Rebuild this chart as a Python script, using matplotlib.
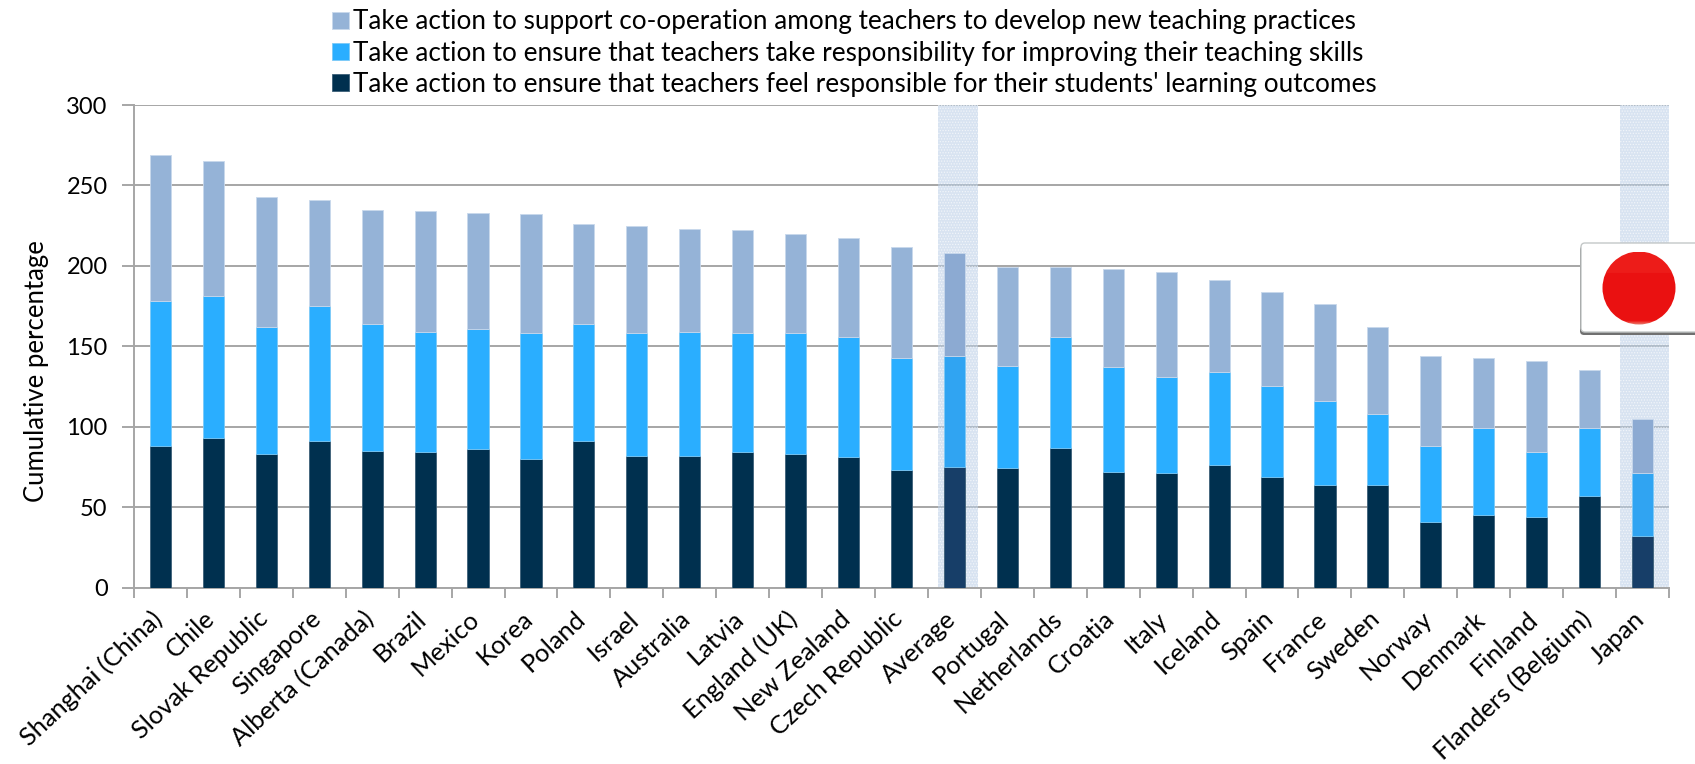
import matplotlib
matplotlib.use("Agg")
import matplotlib.pyplot as plt
import matplotlib.patches as patches
import matplotlib.transforms as transforms
import numpy as np

plt.rcParams["font.family"] = ["Lato", "DejaVu Sans"]
plt.rcParams["hatch.linewidth"] = 0.6

countries = ["Shanghai (China)", "Chile", "Slovak Republic", "Singapore",
             "Alberta (Canada)", "Brazil", "Mexico", "Korea", "Poland", "Israel",
             "Australia", "Latvia", "England (UK)", "New Zealand", "Czech Republic",
             "Average", "Portugal", "Netherlands", "Croatia", "Italy", "Iceland",
             "Spain", "France", "Sweden", "Norway", "Denmark", "Finland",
             "Flanders (Belgium)", "Japan"]
outcomes = [88, 93, 83, 91, 85, 84, 86, 80, 91, 82, 82, 84, 83, 81, 73,
            75, 74, 87, 72, 71, 76, 69, 64, 64, 41, 45, 44, 57, 32]
skills = [90, 88, 79, 84, 79, 75, 75, 78, 73, 76, 77, 74, 75, 75, 70,
          69, 64, 69, 65, 60, 58, 56, 52, 44, 47, 54, 40, 42, 39]
cooperation = [91, 84, 81, 66, 71, 75, 72, 74, 62, 67, 64, 64, 62, 61, 69,
               64, 61, 43, 61, 65, 57, 59, 60, 54, 56, 44, 57, 36, 34]
y_ticks = [0, 50, 100, 150, 200, 250, 300]
highlighted = ["Average", "Japan"]

label_outcomes = "Take action to ensure that teachers feel responsible for their students' learning outcomes"
label_skills = "Take action to ensure that teachers take responsibility for improving their teaching skills"
label_cooperation = "Take action to support co-operation among teachers to develop new teaching practices"

W, H = 1695, 764
GREY = "#a6a6a6"


def bar_colors(normal, shaded):
    return [shaded if c in highlighted else normal for c in countries]


fig = plt.figure(figsize=(W / 100, H / 100), dpi=100)
ax = fig.add_axes([134 / W, 1 - 587.5 / H, 1535 / W, 482.5 / H])

x = np.arange(len(countries))
outcomes_arr, skills_arr = np.array(outcomes), np.array(skills)
bar_opts = dict(width=0.4, linewidth=0.6, zorder=3)
b1 = ax.bar(x, outcomes_arr, color=bar_colors("#00304f", "#173e68"), edgecolor="#3d6078",
            label=label_outcomes, **bar_opts)
b2 = ax.bar(x, skills_arr, bottom=outcomes_arr, color=bar_colors("#2aaeff", "#30a4f2"),
            edgecolor="#7cc9f7", label=label_skills, **bar_opts)
b3 = ax.bar(x, cooperation, bottom=outcomes_arr + skills_arr, color=bar_colors("#95b3d7", "#8caad2"),
            edgecolor="#c8d8ec", label=label_cooperation, **bar_opts)

ax.set_xlim(-0.5, len(countries) - 0.5)
ax.set_ylim(0, 300)
ax.set_yticks(y_ticks)
ax.tick_params(axis="y", labelsize=17, length=9, width=1.4, color=GREY, pad=10)
ax.grid(axis="y", color=GREY, lw=1.4)
ax.set_axisbelow(True)
ax.set_xticks(x)
ax.set_xticklabels(countries, rotation=43, ha="right", rotation_mode="anchor", fontsize=18.3)
ax.tick_params(axis="x", which="major", length=0, pad=14)
shift = transforms.ScaledTranslation(-10 / 100, 0, fig.dpi_scale_trans)
for label in ax.get_xticklabels():
    label.set_transform(label.get_transform() + shift)
ax.set_xticks(np.arange(len(countries) + 1) - 0.5, minor=True)
ax.tick_params(axis="x", which="minor", length=7, width=1.4, color=GREY)
for i in ["top", "right"]:
    ax.spines[i].set_visible(False)
for i in ["left", "bottom"]:
    ax.spines[i].set_color(GREY)
    ax.spines[i].set_linewidth(1.4)
ax.set_ylabel("Cumulative percentage", fontsize=18.5)
ax.yaxis.set_label_coords(-0.0554, 0.449)

# shaded bands behind the Average and Japan bars
for name, left, right in [("Average", -0.31, 0.45), ("Japan", -0.43, 0.5)]:
    i = countries.index(name)
    ax.axvspan(i + left, i + right, facecolor="#b8cde6", alpha=0.55, lw=0, zorder=1.5)
    ax.axvspan(i + left, i + right, facecolor="none", edgecolor="#ffffff", alpha=0.6,
               hatch="......", lw=0, zorder=1.5)

handles = [b3, b2, b1]
fig.legend(handles=handles, labels=[h.get_label() for h in handles],
           loc="upper left", bbox_to_anchor=(324 / W, 1 - 1 / H), frameon=False,
           fontsize=18.8, handlelength=0.62, handleheight=0.62, handletextpad=0.18,
           labelspacing=0.24, borderpad=0.32, borderaxespad=0)

# flag badge, drawn in pixel coordinates
badge = fig.add_axes([0, 0, 1, 1], facecolor="none")
badge.set_xlim(0, W)
badge.set_ylim(H, 0)
badge.axis("off")
badge.add_patch(patches.FancyBboxPatch((1580, 246), 125, 89, boxstyle="round,pad=0,rounding_size=4",
                                       facecolor="#707070", edgecolor="none", zorder=5))
badge.add_patch(patches.FancyBboxPatch((1581, 243), 120, 89, boxstyle="round,pad=0,rounding_size=4",
                                       facecolor="#ffffff", edgecolor="#c4c8c8", lw=1, zorder=6))
shade = np.array([[0.93, 0.11, 0.10]] * 20 + [[0.92, 0.07, 0.07]] * 46 +
                 [[0.93, 0.16, 0.14], [0.93, 0.28, 0.25], [0.91, 0.38, 0.34],
                  [0.90, 0.46, 0.40]])[:, None, :]
im = badge.imshow(shade, extent=(1602, 1676, 325, 252), aspect="auto", zorder=7)
im.set_clip_path(patches.Circle((1639, 288), 36.5, transform=badge.transData))
badge.set_xlim(0, W)
badge.set_ylim(H, 0)

fig.savefig("out.png", dpi=100)
